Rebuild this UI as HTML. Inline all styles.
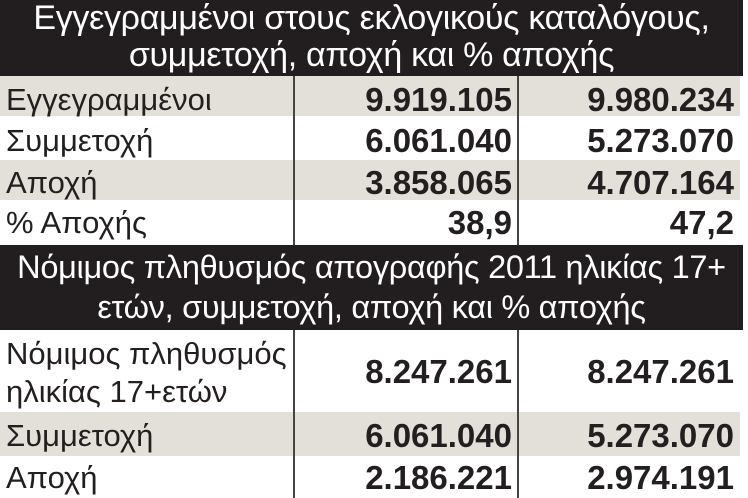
<!DOCTYPE html>
<html><head><meta charset="utf-8"><style>
body{margin:0;width:748px;height:498px;overflow:hidden;background:#fff;font-family:"Liberation Sans","DejaVu Sans",sans-serif;}
.a{position:absolute;}
.h{background:#221e1f;color:#fff;left:0;width:743px;text-align:center;font-size:34px;line-height:38px;letter-spacing:-0.3px;white-space:nowrap;}
.g{background:#e2e0d8;}
.r{position:absolute;left:0;width:740px;}
.l{position:absolute;left:6px;font-size:31px;color:#231f20;line-height:36px;}
.n{position:absolute;font-size:33px;font-weight:bold;color:#231f20;text-align:right;line-height:36px;}
.c1{right:236px}.c2{right:14px}
.v{position:absolute;width:1.5px;background:#444;}
</style></head><body>
<div class="a h" style="top:0;height:76px;line-height:37px">Εγγεγραμμένοι στους εκλογικούς καταλόγους,<br>συμμετοχή, αποχή και % αποχής</div>
<div class="r g" style="top:76px;height:40px"></div>
<div class="r g" style="top:160px;height:40px"></div>
<div class="l" style="top:82px">Εγγεγραμμένοι</div><div class="n c1" style="top:82px">9.919.105</div><div class="n c2" style="top:82px">9.980.234</div>
<div class="l" style="top:123px">Συμμετοχή</div><div class="n c1" style="top:123px">6.061.040</div><div class="n c2" style="top:123px">5.273.070</div>
<div class="l" style="top:165px">Αποχή</div><div class="n c1" style="top:165px">3.858.065</div><div class="n c2" style="top:165px">4.707.164</div>
<div class="l" style="top:205px">% Αποχής</div><div class="n c1" style="top:205px">38,9</div><div class="n c2" style="top:205px">47,2</div>
<div class="a h" style="top:245px;height:85px;line-height:40px;padding-top:2px;box-sizing:border-box;font-size:32.5px">Νόμιμος πληθυσμός απογραφής 2011 ηλικίας 17+<br>ετών, συμμετοχή, αποχή και % αποχής</div>
<div class="r g" style="top:412px;height:44px"></div>
<div class="l" style="top:335px;line-height:38px">Νόμιμος πληθυσμός<br>ηλικίας 17+ετών</div>
<div class="n c1" style="top:354px">8.247.261</div><div class="n c2" style="top:354px">8.247.261</div>
<div class="l" style="top:418px">Συμμετοχή</div><div class="n c1" style="top:418px">6.061.040</div><div class="n c2" style="top:418px">5.273.070</div>
<div class="l" style="top:460px">Αποχή</div><div class="n c1" style="top:460px">2.186.221</div><div class="n c2" style="top:460px">2.974.191</div>
<div class="v" style="left:293px;top:76px;height:169px"></div>
<div class="v" style="left:517px;top:76px;height:169px"></div>
<div class="v" style="left:293px;top:330px;height:168px"></div>
<div class="v" style="left:517px;top:330px;height:168px"></div>
</body></html>
